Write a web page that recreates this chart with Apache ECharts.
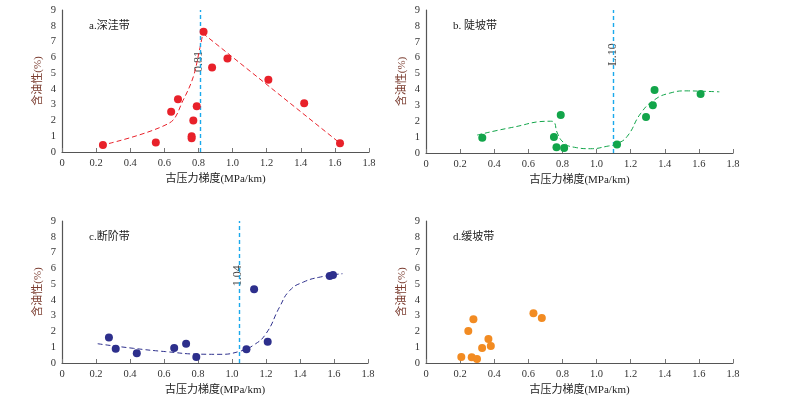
<!DOCTYPE html>
<html>
<head>
<meta charset="utf-8">
<script src="https://cdn.jsdelivr.net/npm/echarts@6/dist/echarts.min.js"></script>
<style>
  html, body { margin: 0; padding: 0; background: #fff; }
  #chart { width: 788px; height: 397px; }
</style>
</head>
<body>
<div id="chart"></div>
<script>
// a.深洼带
const ptsA = [[0.24, 0.45], [0.55, 0.6], [0.64, 2.55], [0.68, 3.35], [0.77, 2.0], [0.79, 2.9],
  [0.76, 1.0], [0.76, 0.87], [0.83, 7.62], [0.88, 5.35], [0.97, 5.93], [1.21, 4.58], [1.42, 3.09], [1.63, 0.55]]
const curveA1 = [[0.23, 0.42], [0.63, 1.84], [0.71, 3.28], [0.77, 4.77], [0.806, 6.46], [0.826, 7.52]]
const curveA2 = [[0.826, 7.52], [1.624, 0.61]]
// b.陡坡带
const ptsB = [[0.33, 0.96], [0.75, 1.0], [0.765, 0.36], [0.79, 2.39], [0.81, 0.31], [1.12, 0.54],
  [1.29, 2.26], [1.33, 3.01], [1.34, 3.97], [1.61, 3.72]]
const curveB = [[0.3, 1.13], [0.5, 1.6], [0.73, 2.0], [0.75, 1.95], [0.77, 1.26], [0.81, 0.63], [0.87, 0.36],
  [0.965, 0.27], [1.06, 0.42], [1.12, 0.59], [1.18, 1.05], [1.26, 2.51], [1.34, 3.35], [1.43, 3.77],
  [1.53, 3.91], [1.61, 3.89], [1.72, 3.85]]
// c.断阶带
const ptsC = [[0.276, 1.62], [0.316, 0.9], [0.44, 0.62], [0.66, 0.95], [0.73, 1.22], [0.79, 0.38],
  [1.085, 0.87], [1.13, 4.67], [1.21, 1.35], [1.575, 5.52], [1.594, 5.57]]
const curveC = [[0.21, 1.22], [0.42, 0.93], [0.61, 0.72], [0.81, 0.56], [0.93, 0.55], [1.045, 0.74],
  [1.125, 1.12], [1.2, 1.86], [1.28, 3.55], [1.34, 4.6], [1.42, 5.13], [1.52, 5.45], [1.65, 5.66]]
// d.缓坡带
const ptsD = [[0.207, 0.38], [0.248, 2.03], [0.268, 0.36], [0.278, 2.77], [0.299, 0.25], [0.329, 0.95],
  [0.366, 1.52], [0.38, 1.08], [0.63, 3.15], [0.679, 2.85]]

const panelTitles = ['a.深洼带', 'b. 陡坡带', 'c.断阶带', 'd.缓坡带']
const cutLines = [0.81, 1.10, 1.04, null]
const cutLabels = ['0.81', 'L.10', '1.04', '']
const cutLabelY = [6.4, 6.9, 6.2, 0]

const serif = '"Liberation Serif", "Noto Sans CJK SC", serif'
const grids = [
  { left: 62, top: 10, width: 307, height: 142 },
  { left: 426, top: 10, width: 307, height: 143 },
  { left: 62, top: 221, width: 306, height: 142 },
  { left: 426, top: 221, width: 307, height: 142 }
]

const chart = echarts.init(document.getElementById('chart'))

const xAxis = grids.map((g, i) => ({
  type: 'value', gridIndex: i, min: 0, max: 1.8, interval: 0.2,
  name: '古压力梯度(MPa/km)', nameLocation: 'middle', nameGap: 22,
  nameTextStyle: { fontFamily: serif, fontSize: 11, color: '#222' },
  axisLine: { lineStyle: { color: '#555', width: 1.2 } },
  axisTick: { show: true, inside: true, length: 4, lineStyle: { color: '#777' } },
  axisLabel: { fontFamily: serif, fontSize: 10.5, color: '#333', margin: 6,
    formatter: v => v === 0 ? '0' : v.toFixed(1) },
  splitLine: { show: false }
}))

const yAxis = grids.map((g, i) => ({
  type: 'value', gridIndex: i, min: 0, max: 9, interval: 1,
  name: '含油性(%)', nameLocation: 'middle', nameGap: 18,
  nameTextStyle: { fontFamily: serif, fontSize: 11, color: '#7a3b2e' },
  axisLine: { show: true, lineStyle: { color: '#555', width: 1.2 } },
  axisTick: { show: false },
  axisLabel: { fontFamily: serif, fontSize: 10.5, color: '#333', margin: 6 },
  splitLine: { show: false }
}))

function cut(i) {
  return {
    silent: true, symbol: 'none',
    lineStyle: { color: '#1aa9ec', type: [4, 3], width: 1.4 },
    label: { show: false },
    data: [{ xAxis: cutLines[i] }]
  }
}

function scatter(i, data, color) {
  return {
    type: 'scatter', xAxisIndex: i, yAxisIndex: i, data: data,
    symbolSize: 8, itemStyle: { color: color, opacity: 1 }, z: 5
  }
}

function curve(i, data, color, smooth) {
  return {
    type: 'line', xAxisIndex: i, yAxisIndex: i, data: data, smooth: smooth,
    showSymbol: false, lineStyle: { color: color, width: 1, type: [5, 3] }, z: 3
  }
}

const series = [
  scatter(0, ptsA, '#e8212a'),
  curve(0, curveA1, '#e8212a', 0.35),
  curve(0, curveA2, '#e8212a', false),
  scatter(1, ptsB, '#12a54a'),
  curve(1, curveB, '#12a54a', 0.5),
  scatter(2, ptsC, '#2d2f8c'),
  curve(2, curveC, '#2d2f8c', 0.5),
  scatter(3, ptsD, '#f28b22')
]

// vertical cut lines with rotated labels
for (let i = 0; i < 3; i++) {
  series.push({
    type: 'line', xAxisIndex: i, yAxisIndex: i, data: [], markLine: cut(i)
  })
  series.push({
    type: 'scatter', xAxisIndex: i, yAxisIndex: i, symbolSize: 0, silent: true,
    data: [[cutLines[i], cutLabelY[i]]],
    label: { show: true, formatter: cutLabels[i], rotate: 90, position: 'left', distance: 1,
      fontFamily: serif, fontSize: 12, color: '#111' }
  })
}

chart.setOption({
  animation: false,
  grid: grids,
  xAxis: xAxis,
  yAxis: yAxis,
  title: panelTitles.map((t, i) => ({
    text: t, left: grids[i].left + 22, top: grids[i].top + 6,
    textStyle: { fontFamily: serif, fontSize: 11, fontWeight: 'normal', color: '#222' }
  })),
  series: series
})
</script>
</body>
</html>
